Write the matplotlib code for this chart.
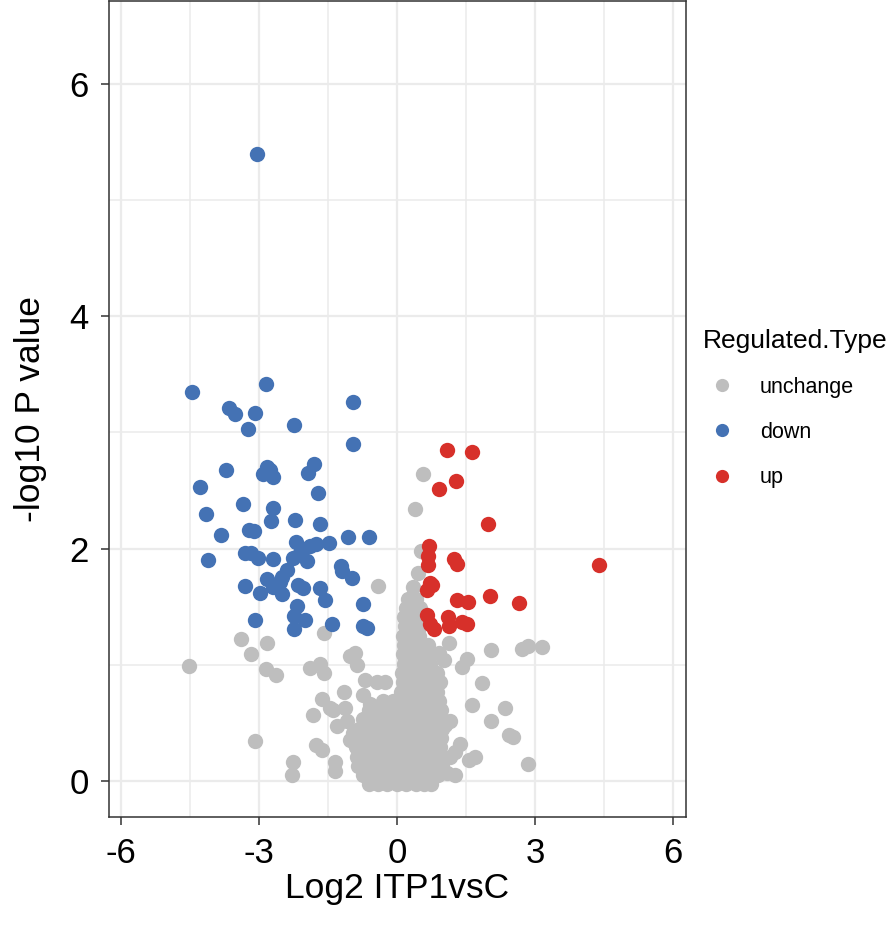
""" Volcano plot: Log2 ITP1vsC against -log10 P value. """

import matplotlib
matplotlib.use('Agg')
import matplotlib.pyplot as plt
from matplotlib.lines import Line2D

plt.rcParams['font.family'] = ['Liberation Sans', 'DejaVu Sans']
plt.rcParams['axes.unicode_minus'] = False

# Points, (log2 fold change, -log10 p)
down_points = [
    (-3.04, 5.40), (-4.46, 3.35), (-2.85, 3.42), (-3.65, 3.21), (-3.52, 3.16),
    (-3.09, 3.17), (-3.23, 3.03), (-2.25, 3.06), (-0.97, 3.26), (-0.95, 2.90),
    (-3.72, 2.68), (-2.83, 2.70), (-2.76, 2.68), (-2.91, 2.64), (-2.69, 2.62),
    (-1.80, 2.73), (-1.93, 2.65), (-4.28, 2.53), (-1.72, 2.48), (-3.35, 2.38),
    (-4.15, 2.30), (-2.70, 2.35), (-2.75, 2.24), (-2.21, 2.25), (-1.67, 2.21),
    (-3.83, 2.12), (-3.22, 2.16), (-3.10, 2.15), (-1.06, 2.10), (-0.62, 2.10),
    (-2.20, 2.06), (-2.04, 2.00), (-1.76, 2.04), (-1.49, 2.05), (-1.89, 2.02),
    (-4.10, 1.90), (-3.30, 1.96), (-3.17, 1.96), (-3.02, 1.92), (-2.69, 1.91),
    (-2.27, 1.92), (-2.11, 1.96), (-1.96, 1.89), (-2.40, 1.82), (-2.51, 1.76),
    (-2.54, 1.71), (-2.83, 1.74), (-1.22, 1.85), (-1.20, 1.81), (-0.98, 1.75),
    (-3.30, 1.68), (-2.98, 1.62), (-2.69, 1.67), (-2.51, 1.61), (-2.15, 1.69),
    (-2.04, 1.66), (-1.67, 1.66), (-1.57, 1.56), (-0.75, 1.52), (-2.18, 1.51),
    (-2.25, 1.42), (-2.00, 1.39), (-3.09, 1.39), (-2.25, 1.31), (-1.42, 1.35),
    (-0.75, 1.33), (-0.66, 1.32),
]

up_points = [
    (1.09, 2.85), (1.62, 2.83), (1.28, 2.58), (0.90, 2.51), (1.98, 2.21),
    (0.70, 2.02), (0.66, 1.94), (0.68, 1.86), (1.24, 1.91), (1.30, 1.87),
    (4.38, 1.86), (0.72, 1.70), (0.65, 1.64), (0.75, 1.69), (1.31, 1.56),
    (1.54, 1.54), (2.02, 1.59), (2.65, 1.53), (0.65, 1.43), (0.72, 1.35),
    (0.79, 1.31), (1.10, 1.41), (1.12, 1.33), (1.41, 1.37), (1.52, 1.35),
]

# scattered unchanged points
unchange_outer = [
    (-4.53, 0.99), (-3.40, 1.22), (-3.17, 1.09), (-2.83, 1.19), (-2.85, 0.96),
    (-2.63, 0.91), (-3.08, 0.34), (-2.27, 0.16), (-2.29, 0.05), (-1.58, 1.27),
    (-1.89, 0.97), (-1.67, 1.01), (-1.60, 0.93), (-1.02, 1.08), (-0.91, 1.10),
    (-0.88, 1.00), (-1.15, 0.77), (-0.70, 0.87), (-0.44, 0.85), (-0.26, 0.85),
    (-1.64, 0.71), (-1.46, 0.63), (-1.40, 0.61), (-1.82, 0.57), (-1.31, 0.47),
    (-1.09, 0.52), (-1.13, 0.63), (-0.74, 0.74), (-0.60, 0.66), (-1.76, 0.31),
    (-1.64, 0.27), (-1.36, 0.16), (-1.35, 0.09), (-1.02, 0.35), (-0.95, 0.41),
    (-0.42, 1.68), (1.12, 1.19), (0.90, 1.10), (1.01, 1.04), (1.52, 1.05),
    (1.41, 0.98), (2.04, 1.13), (2.71, 1.14), (2.85, 1.16), (3.15, 1.15),
    (1.85, 0.84), (1.62, 0.65), (2.35, 0.63), (2.04, 0.52), (2.42, 0.40),
    (2.52, 0.38), (1.15, 0.52), (1.04, 0.48), (1.37, 0.32), (1.26, 0.25),
    (1.15, 0.21), (1.70, 0.21), (1.55, 0.18), (2.85, 0.15), (1.08, 0.07),
    (1.26, 0.05), (0.52, 1.98), (0.38, 2.34), (0.57, 2.64), (0.46, 1.79),
    (0.35, 1.67),
]

# the dense cloud around zero, row by row
unchange_core = [
    (-0.62, -0.03), (-0.42, -0.03), (-0.22, -0.03), (0.00, -0.03), (0.20, -0.03),
    (0.40, -0.03), (0.58, -0.03), (0.74, -0.03),
    (-0.75, 0.05), (-0.55, 0.05), (-0.34, 0.05), (-0.12, 0.05), (0.10, 0.05),
    (0.30, 0.05), (0.50, 0.05), (0.70, 0.05), (0.88, 0.05),
    (-0.84, 0.13), (-0.63, 0.13), (-0.42, 0.13), (-0.20, 0.13), (0.02, 0.13),
    (0.22, 0.13), (0.42, 0.13), (0.62, 0.13), (0.82, 0.13), (0.98, 0.13),
    (-0.88, 0.21), (-0.68, 0.21), (-0.47, 0.21), (-0.26, 0.21), (-0.05, 0.21),
    (0.16, 0.21), (0.37, 0.21), (0.57, 0.21), (0.78, 0.21), (0.95, 0.21),
    (-0.90, 0.29), (-0.70, 0.29), (-0.50, 0.29), (-0.30, 0.29), (-0.08, 0.29),
    (0.12, 0.29), (0.33, 0.29), (0.53, 0.29), (0.74, 0.29), (0.92, 0.29),
    (-0.86, 0.37), (-0.66, 0.37), (-0.45, 0.37), (-0.24, 0.37), (-0.03, 0.37),
    (0.18, 0.37), (0.38, 0.37), (0.58, 0.37), (0.78, 0.37), (0.95, 0.37),
    (-0.82, 0.45), (-0.60, 0.45), (-0.40, 0.45), (-0.20, 0.45), (0.00, 0.45),
    (0.20, 0.45), (0.40, 0.45), (0.60, 0.45), (0.80, 0.45), (0.98, 0.45),
    (-0.74, 0.53), (-0.54, 0.53), (-0.33, 0.53), (-0.12, 0.53), (0.08, 0.53),
    (0.28, 0.53), (0.48, 0.53), (0.68, 0.53), (0.88, 0.53),
    (-0.62, 0.61), (-0.42, 0.61), (-0.22, 0.61), (-0.02, 0.61), (0.18, 0.61),
    (0.38, 0.61), (0.58, 0.61), (0.78, 0.61), (0.95, 0.61),
    (-0.30, 0.69), (-0.10, 0.69), (0.12, 0.69), (0.32, 0.69), (0.52, 0.69),
    (0.72, 0.69), (0.90, 0.69),
    (0.08, 0.77), (0.26, 0.77), (0.46, 0.77), (0.66, 0.77), (0.86, 0.77),
    (0.12, 0.85), (0.30, 0.85), (0.50, 0.85), (0.70, 0.85), (0.92, 0.85),
    (0.10, 0.93), (0.28, 0.93), (0.48, 0.93), (0.68, 0.93), (0.86, 0.93),
    (0.14, 1.01), (0.32, 1.01), (0.52, 1.01), (0.72, 1.01),
    (0.12, 1.09), (0.30, 1.09), (0.50, 1.09), (0.68, 1.09),
    (0.15, 1.17), (0.33, 1.17), (0.52, 1.17), (0.66, 1.17),
    (0.13, 1.25), (0.30, 1.25), (0.48, 1.25),
    (0.16, 1.33), (0.32, 1.33), (0.50, 1.33),
    (0.14, 1.41), (0.30, 1.41), (0.46, 1.41),
    (0.20, 1.49), (0.36, 1.49), (0.50, 1.49),
    (0.24, 1.57), (0.42, 1.57),
]

groups = ['unchange', 'down', 'up']
colors = {'unchange': '#BEBEBE', 'down': '#4472B4', 'up': '#D7302A'}
x_ticks = [-6, -3, 0, 3, 6]
y_ticks = [0, 2, 4, 6]

unchange_points = unchange_outer + unchange_core
data = {'unchange': unchange_points, 'down': down_points, 'up': up_points}

fig = plt.figure(figsize=(8.96, 9.27), dpi=100)
ax = fig.add_axes([109 / 896, 110 / 927, 577 / 896, 816 / 927])

for g in groups:
    xs = [p[0] for p in data[g]]
    ys = [p[1] for p in data[g]]
    ax.scatter(xs, ys, s=122, color=colors[g], linewidths=0, zorder=3)

ax.set_xlim(-6.26, 6.275)
ax.set_ylim(-0.31, 6.714)
ax.set_xticks(x_ticks)
ax.set_yticks(y_ticks)
ax.set_xticks([-4.5, -1.5, 1.5, 4.5], minor=True)
ax.set_yticks([1, 3, 5], minor=True)
ax.set_axisbelow(True)
ax.grid(which='major', color='#EBEBEB', linewidth=1.6)
ax.grid(which='minor', color='#EBEBEB', linewidth=1.1)

for sp in ax.spines.values():
    sp.set_color('#333333')
    sp.set_linewidth(1.1)

ax.tick_params(which='major', direction='out', length=5.5, width=1.1,
               color='#333333', labelsize=25, pad=9, labelcolor='black')
ax.tick_params(which='minor', length=0)

ax.set_xlabel('Log2 ITP1vsC', fontsize=25.5, labelpad=1)
ax.set_ylabel('-log10 P value', fontsize=25.5, labelpad=16)

handles = [Line2D([], [], marker='o', linestyle='', markersize=9.5,
                  markerfacecolor=colors[g], markeredgewidth=0) for g in groups]
leg = fig.legend(handles, groups, title='Regulated.Type', loc='upper left',
                 bbox_to_anchor=(692 / 896, 1 - 318 / 927), frameon=False,
                 fontsize=15.5, title_fontsize=19, alignment='left',
                 borderpad=0, handlelength=1.75, handletextpad=0.9,
                 labelspacing=1.12)

fig.savefig('out.png', dpi=100)
